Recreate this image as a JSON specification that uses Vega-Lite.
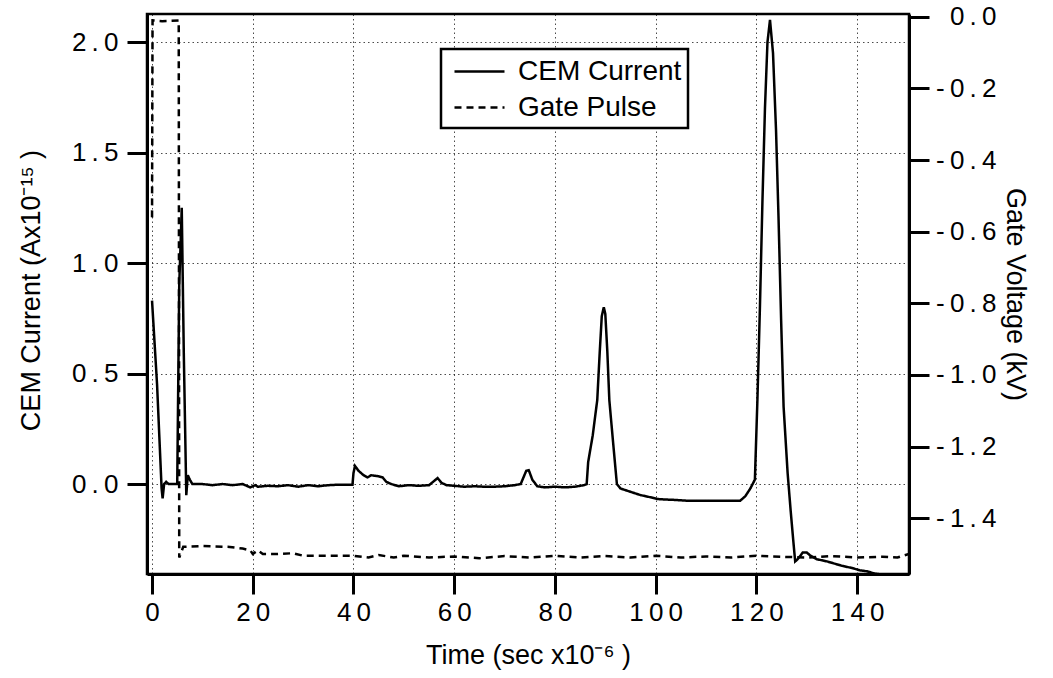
{
  "$schema": "https://vega.github.io/schema/vega-lite/v6.json",
  "autosize": "none",
  "width": 762,
  "height": 560,
  "padding": {"left": 147, "top": 14, "right": 144, "bottom": 104},
  "background": "white",
  "config": {
    "view": {"stroke": "black", "strokeWidth": 2.5},
    "font": "Liberation Sans",
    "axis": {
      "labelFont": "Liberation Sans",
      "titleFont": "Liberation Sans",
      "labelColor": "black",
      "titleColor": "black",
      "labelFontSize": 26,
      "titleFontSize": 27,
      "titleFontWeight": "normal",
      "domainColor": "black",
      "domainWidth": 3,
      "tickColor": "black",
      "tickWidth": 3,
      "tickSize": 20,
      "gridColor": "black",
      "gridDash": [1.5, 3],
      "gridWidth": 1,
      "gridOpacity": 0.7
    }
  },
  "datasets": {
    "cem": [
      {"t": 0.0, "v": 0.83}, {"t": 1.0, "v": 0.45}, {"t": 1.9, "v": -0.02}, {"t": 2.1, "v": -0.065},
      {"t": 2.4, "v": 0.0}, {"t": 2.8, "v": 0.01}, {"t": 3.3, "v": 0.0}, {"t": 5.0, "v": 0.0},
      {"t": 5.4, "v": 0.9}, {"t": 5.9, "v": 1.25}, {"t": 6.3, "v": 0.6}, {"t": 6.8, "v": -0.05},
      {"t": 7.1, "v": 0.04}, {"t": 7.5, "v": 0.02}, {"t": 8.0, "v": 0.0}, {"t": 10, "v": 0.0},
      {"t": 12, "v": -0.005}, {"t": 14, "v": 0.0}, {"t": 16, "v": -0.005}, {"t": 18, "v": 0.0},
      {"t": 19.5, "v": -0.015}, {"t": 20.5, "v": -0.005}, {"t": 21, "v": -0.012}, {"t": 23, "v": -0.008},
      {"t": 25, "v": -0.01}, {"t": 27, "v": -0.005}, {"t": 29, "v": -0.012}, {"t": 31, "v": -0.005},
      {"t": 33, "v": -0.01}, {"t": 35, "v": -0.005}, {"t": 37, "v": -0.003}, {"t": 39.8, "v": -0.003},
      {"t": 40.0, "v": 0.05}, {"t": 40.3, "v": 0.082}, {"t": 41, "v": 0.06}, {"t": 42, "v": 0.04},
      {"t": 42.8, "v": 0.03}, {"t": 43.5, "v": 0.04}, {"t": 45, "v": 0.035}, {"t": 45.8, "v": 0.03},
      {"t": 46.5, "v": 0.01}, {"t": 47.5, "v": 0.0}, {"t": 49, "v": -0.01}, {"t": 51, "v": -0.005},
      {"t": 53, "v": -0.008}, {"t": 55, "v": -0.005}, {"t": 56.7, "v": 0.027}, {"t": 57.5, "v": 0.005},
      {"t": 58.5, "v": -0.005}, {"t": 60, "v": -0.008}, {"t": 62, "v": -0.012}, {"t": 64, "v": -0.01},
      {"t": 66, "v": -0.012}, {"t": 68, "v": -0.012}, {"t": 70, "v": -0.01}, {"t": 72, "v": -0.005},
      {"t": 73.2, "v": 0.0}, {"t": 74.3, "v": 0.06}, {"t": 74.8, "v": 0.063}, {"t": 75.5, "v": 0.02},
      {"t": 76.5, "v": -0.01}, {"t": 78, "v": -0.015}, {"t": 80, "v": -0.012}, {"t": 82, "v": -0.015},
      {"t": 84, "v": -0.012}, {"t": 85.8, "v": -0.005}, {"t": 86.3, "v": 0.0}, {"t": 86.6, "v": 0.1},
      {"t": 87.5, "v": 0.22}, {"t": 88.4, "v": 0.38}, {"t": 88.9, "v": 0.6}, {"t": 89.3, "v": 0.76},
      {"t": 89.7, "v": 0.8}, {"t": 90.0, "v": 0.77}, {"t": 90.4, "v": 0.6}, {"t": 90.8, "v": 0.38},
      {"t": 91.5, "v": 0.2}, {"t": 92.3, "v": 0.0}, {"t": 93, "v": -0.02}, {"t": 95, "v": -0.035},
      {"t": 97, "v": -0.05}, {"t": 99, "v": -0.06}, {"t": 100.5, "v": -0.068}, {"t": 102, "v": -0.07},
      {"t": 104, "v": -0.072}, {"t": 106, "v": -0.075}, {"t": 110, "v": -0.075}, {"t": 114, "v": -0.075},
      {"t": 116.8, "v": -0.075}, {"t": 117.8, "v": -0.055}, {"t": 118.8, "v": -0.02}, {"t": 119.7, "v": 0.02},
      {"t": 120.2, "v": 0.38}, {"t": 120.7, "v": 0.8}, {"t": 121.2, "v": 1.28}, {"t": 121.7, "v": 1.7},
      {"t": 122.2, "v": 2.0}, {"t": 122.7, "v": 2.1}, {"t": 123.3, "v": 1.95}, {"t": 123.9, "v": 1.6},
      {"t": 124.4, "v": 1.2}, {"t": 124.9, "v": 0.75}, {"t": 125.4, "v": 0.35}, {"t": 126.2, "v": 0.05},
      {"t": 126.8, "v": -0.12}, {"t": 127.3, "v": -0.25}, {"t": 127.7, "v": -0.35}, {"t": 128.2, "v": -0.34},
      {"t": 129.2, "v": -0.31}, {"t": 130.0, "v": -0.31}, {"t": 130.8, "v": -0.325}, {"t": 132, "v": -0.34},
      {"t": 134, "v": -0.35}, {"t": 135.5, "v": -0.36}, {"t": 137, "v": -0.37}, {"t": 139, "v": -0.38},
      {"t": 140.5, "v": -0.39}, {"t": 142, "v": -0.395}, {"t": 143.5, "v": -0.405}, {"t": 145, "v": -0.41},
      {"t": 150.3, "v": -0.41}
    ],
    "gate": [
      {"t": 0.0, "v": -0.56}, {"t": 0.1, "v": -0.01}, {"t": 2.0, "v": -0.012}, {"t": 5.3, "v": -0.01},
      {"t": 5.4, "v": -1.51}, {"t": 6.2, "v": -1.48}, {"t": 10, "v": -1.478}, {"t": 15, "v": -1.48},
      {"t": 18, "v": -1.485}, {"t": 19.5, "v": -1.49}, {"t": 20, "v": -1.5}, {"t": 21, "v": -1.49},
      {"t": 22, "v": -1.5}, {"t": 25, "v": -1.5}, {"t": 28, "v": -1.498}, {"t": 30, "v": -1.505},
      {"t": 35, "v": -1.505}, {"t": 40, "v": -1.505}, {"t": 43, "v": -1.51}, {"t": 45, "v": -1.503},
      {"t": 48, "v": -1.51}, {"t": 50, "v": -1.505}, {"t": 55, "v": -1.51}, {"t": 60, "v": -1.507},
      {"t": 65, "v": -1.512}, {"t": 70, "v": -1.506}, {"t": 75, "v": -1.51}, {"t": 80, "v": -1.505},
      {"t": 85, "v": -1.51}, {"t": 90, "v": -1.506}, {"t": 95, "v": -1.51}, {"t": 100, "v": -1.505},
      {"t": 105, "v": -1.51}, {"t": 110, "v": -1.507}, {"t": 115, "v": -1.51}, {"t": 120, "v": -1.505},
      {"t": 125, "v": -1.508}, {"t": 130, "v": -1.51}, {"t": 135, "v": -1.506}, {"t": 140, "v": -1.51},
      {"t": 145, "v": -1.508}, {"t": 148, "v": -1.51}, {"t": 150.3, "v": -1.5}
    ]
  },
  "layer": [
    {
      "data": {"name": "cem"},
      "mark": {"type": "line", "color": "black", "strokeWidth": 2.5, "clip": true},
      "encoding": {
        "x": {
          "field": "t", "type": "quantitative",
          "scale": {"domain": [-1, 150.3], "nice": false, "zero": false},
          "axis": {
            "values": [0, 20, 40, 60, 80, 100, 120, 140],
            "title": "Time (sec x10⁻⁶ )",
            "grid": true,
            "labelPadding": 5,
            "labelExpr": "replace(datum.label, regexp('(.)(?=.)', 'g'), '$1\u2009')",
            "titleY": 81,
            "titleBaseline": "middle"
          }
        },
        "y": {
          "field": "v", "type": "quantitative",
          "scale": {"domain": [-0.407, 2.127], "nice": false, "zero": false},
          "axis": {
            "values": [0, 0.5, 1, 1.5, 2],
            "format": ".1f",
            "title": "CEM Current (Ax10⁻¹⁵ )",
            "grid": true,
            "labelPadding": 9,
            "labelExpr": "replace(datum.label, regexp('(.)(?=.)', 'g'), '$1\u2009')",
            "titleX": -116,
            "titleY": 276,
            "titleBaseline": "middle"
          }
        },
        "strokeDash": {
          "datum": "CEM Current",
          "scale": {"domain": ["CEM Current", "Gate Pulse"], "range": [[1, 0], [7, 5]]},
          "legend": {
            "title": null,
            "orient": "none",
            "legendX": 294,
            "legendY": 35,
            "direction": "vertical",
            "symbolType": "M-1.667,0H1.667",
            "symbolSize": 900,
            "symbolStrokeWidth": 2.5,
            "symbolStrokeColor": "black",
            "symbolFillColor": "transparent",
            "symbolOffset": 16,
            "labelFont": "Liberation Sans",
            "labelFontSize": 28,
            "labelColor": "black",
            "labelOffset": 22,
            "labelLimit": 400,
            "labelExpr": "datum.label + '\u2003'",
            "rowPadding": 5,
            "strokeColor": "black",
            "fillColor": "white",
            "padding": 6,
            "encode": {"legend": {"update": {"strokeWidth": {"value": 2.5}}}}
          }
        }
      }
    },
    {
      "data": {"name": "gate"},
      "mark": {"type": "line", "color": "black", "strokeWidth": 2.5, "clip": true},
      "encoding": {
        "x": {"field": "t", "type": "quantitative"},
        "y": {
          "field": "v", "type": "quantitative",
          "scale": {"domain": [-1.556, 0.008], "nice": false, "zero": false},
          "axis": {
            "orient": "right",
            "values": [0, -0.2, -0.4, -0.6, -0.8, -1.0, -1.2, -1.4],
            "format": ".1f",
            "title": "Gate Voltage (kV)",
            "grid": false,
            "labelAlign": "right",
            "labelPadding": 67,
            "labelExpr": "replace(replace(datum.label, '\u2212', '-'), regexp('(.)(?=.)', 'g'), '$1\u2009')",
            "titleX": 105,
            "titleBaseline": "middle"
          }
        },
        "strokeDash": {"datum": "Gate Pulse"}
      }
    }
  ],
  "resolve": {"scale": {"y": "independent"}}
}
